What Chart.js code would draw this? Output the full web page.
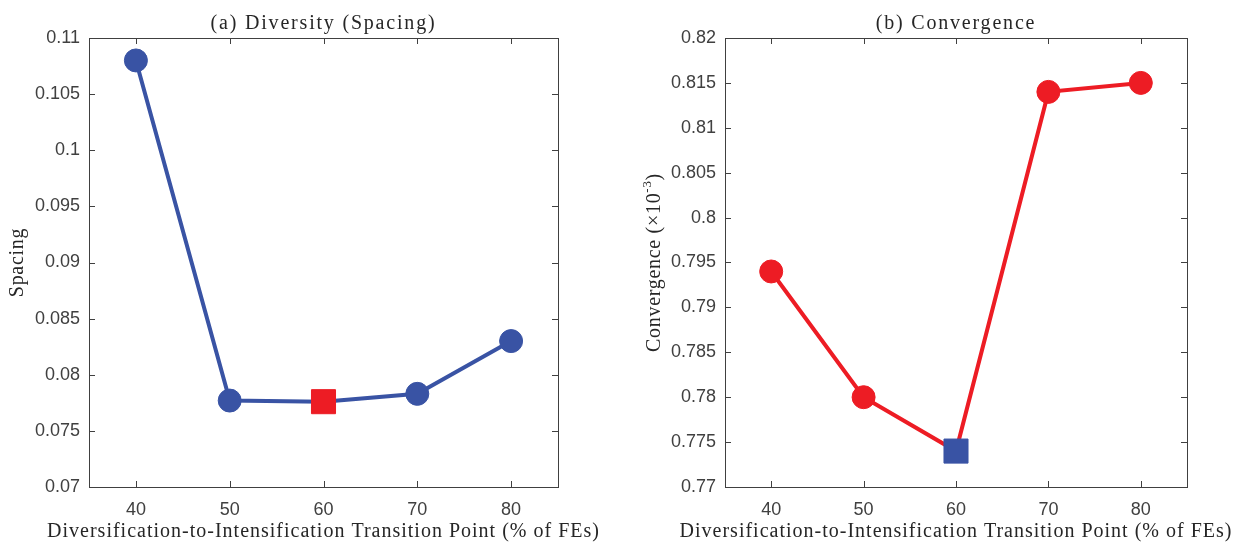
<!DOCTYPE html>
<html>
<head>
<meta charset="utf-8">
<script src="https://cdn.jsdelivr.net/npm/chart.js@4.4.0/dist/chart.umd.min.js"></script>
<style>
  html, body { margin: 0; padding: 0; background: #fff; overflow: hidden; }
  #wrap { position: relative; width: 1235px; height: 544px; }
  .panel { position: absolute; top: 0; }
  #left { left: 0; }
  #right { left: 620px; }
</style>
</head>
<body>
<div id="wrap">
  <div class="panel" id="left"><canvas id="spacingChart" width="615" height="544"></canvas></div>
  <div class="panel" id="right"><canvas id="convChart" width="615" height="544"></canvas></div>
</div>
<script>
// transition point (% of FEs) and the two measured indicators
var transition = [40, 50, 60, 70, 80];
var spacing = [0.108, 0.0777, 0.0776, 0.0783, 0.0830];
var convergence = [0.794, 0.780, 0.774, 0.814, 0.815];
var bestIndex = 2; // 60% setting is highlighted with a square

var spacingTicks = [0.07, 0.075, 0.08, 0.085, 0.09, 0.095, 0.1, 0.105, 0.11];
var convTicks = [0.77, 0.775, 0.78, 0.785, 0.79, 0.795, 0.8, 0.805, 0.81, 0.815, 0.82];

var xTitle = 'Diversification-to-Intensification Transition Point (% of FEs)';

var BLUE = '#3953a4';
var RED = '#ed1c24';
var AXIS = '#404040';
var INK = '#262626';
var SERIF = '"Liberation Serif", "Times New Roman", serif';
var SANS = '"Liberation Sans", Arial, sans-serif';

// box around the plot area plus inward tick marks on all four sides
var framePlugin = {
  id: 'frame',
  beforeDatasetsDraw: function (chart) {
    var a = chart.chartArea, ctx = chart.ctx;
    var xs = chart.scales.x, ys = chart.scales.y;
    var len = 6;
    ctx.save();
    ctx.strokeStyle = AXIS;
    ctx.lineWidth = 1;
    ctx.strokeRect(a.left + 0.5, a.top + 0.5, a.right - a.left, a.bottom - a.top);
    ctx.beginPath();
    xs.ticks.forEach(function (t) {
      var px = Math.round(xs.getPixelForValue(t.value)) + 0.5;
      ctx.moveTo(px, a.bottom); ctx.lineTo(px, a.bottom - len);
      ctx.moveTo(px, a.top); ctx.lineTo(px, a.top + len);
    });
    ys.ticks.forEach(function (t) {
      var py = Math.round(ys.getPixelForValue(t.value)) + 0.5;
      ctx.moveTo(a.left, py); ctx.lineTo(a.left + len, py);
      ctx.moveTo(a.right, py); ctx.lineTo(a.right - len, py);
    });
    ctx.stroke();
    ctx.restore();
  }
};

// serif headings: panel title, x title and rotated y title (with superscript parts)
var labelPlugin = {
  id: 'labels',
  afterDraw: function (chart, args, opts) {
    var a = chart.chartArea, ctx = chart.ctx;
    var cx = (a.left + a.right) / 2;
    ctx.save();
    ctx.fillStyle = INK;
    ctx.textAlign = 'center';
    ctx.font = '20px ' + SERIF;

    ctx.letterSpacing = '1.8px';
    ctx.textBaseline = 'middle';
    ctx.fillText(opts.title, cx, 24);

    ctx.letterSpacing = '1px';
    ctx.textBaseline = 'alphabetic';
    ctx.fillText(xTitle, cx, 537);

    ctx.letterSpacing = '0.7px';
    ctx.textBaseline = 'middle';
    ctx.textAlign = 'left';
    ctx.translate(opts.yLabelX, (a.top + a.bottom) / 2);
    ctx.rotate(-Math.PI / 2);
    var total = 0;
    opts.yParts.forEach(function (p) {
      ctx.font = (p.sup ? 13 : 20) + 'px ' + SERIF;
      total += ctx.measureText(p.text).width;
    });
    var px = -total / 2;
    opts.yParts.forEach(function (p) {
      ctx.font = (p.sup ? 13 : 20) + 'px ' + SERIF;
      ctx.fillText(p.text, px, p.sup ? -7 : 0);
      px += ctx.measureText(p.text).width;
    });
    ctx.restore();
  }
};

function trim(v) {
  return String(parseFloat(v.toFixed(4)));
}

function makeChart(id, values, yTicks, lineColor, markColor, yWidth, rightPad, labelOpts) {
  var pts = transition.map(function (x, i) { return { x: x, y: values[i] }; });
  var fills = transition.map(function (x, i) { return i === bestIndex ? markColor : lineColor; });
  return new Chart(document.getElementById(id), {
    type: 'line',
    data: {
      datasets: [{
        data: pts,
        borderColor: lineColor,
        borderWidth: 4,
        tension: 0,
        fill: false,
        pointStyle: transition.map(function (x, i) { return i === bestIndex ? 'rect' : 'circle'; }),
        pointRadius: transition.map(function (x, i) { return i === bestIndex ? 17 : 11.5; }),
        pointBackgroundColor: fills,
        pointBorderColor: fills,
        pointBorderWidth: 1
      }]
    },
    options: {
      responsive: false,
      animation: false,
      devicePixelRatio: 1,
      layout: { padding: { top: 38, right: rightPad, left: 0, bottom: 0 } },
      plugins: {
        legend: { display: false },
        tooltip: { enabled: false },
        labels: labelOpts
      },
      scales: {
        x: {
          type: 'linear',
          min: 35,
          max: 85,
          afterBuildTicks: function (s) { s.ticks = transition.map(function (v) { return { value: v }; }); },
          afterFit: function (s) { s.height = 57; },
          grid: { display: false, drawTicks: false },
          border: { display: false },
          ticks: { padding: 12, color: AXIS, font: { family: SANS, size: 18 }, maxRotation: 0 }
        },
        y: {
          type: 'linear',
          min: yTicks[0],
          max: yTicks[yTicks.length - 1],
          afterBuildTicks: function (s) { s.ticks = yTicks.map(function (v) { return { value: v }; }); },
          afterFit: function (s) { s.width = yWidth; },
          grid: { display: false, drawTicks: false },
          border: { display: false },
          ticks: { padding: 9, color: AXIS, font: { family: SANS, size: 18 }, callback: trim }
        }
      }
    },
    plugins: [framePlugin, labelPlugin]
  });
}

makeChart('spacingChart', spacing, spacingTicks, BLUE, RED, 89, 57, {
  title: '(a) Diversity (Spacing)', yLabelX: 18, yParts: [{ text: 'Spacing' }]
});

makeChart('convChart', convergence, convTicks, RED, BLUE, 105, 48, {
  title: '(b) Convergence', yLabelX: 35,
  yParts: [{ text: 'Convergence (\u00d710' }, { text: '-3', sup: true }, { text: ')' }]
});
</script>
</body>
</html>
